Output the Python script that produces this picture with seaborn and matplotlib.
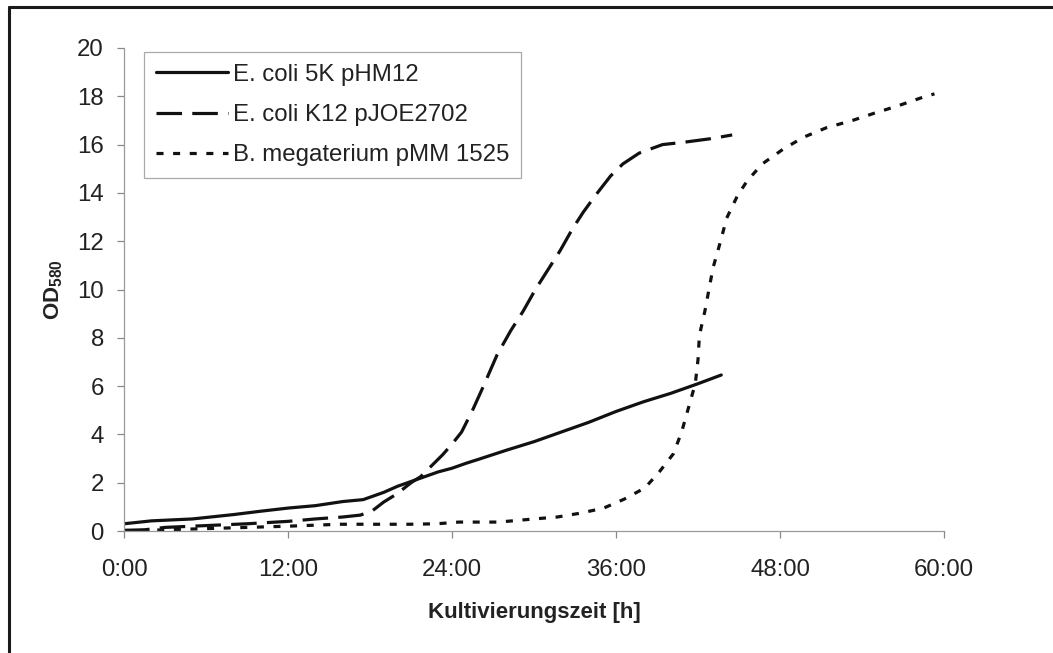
import matplotlib
matplotlib.use("Agg")
import pandas as pd
import seaborn as sns
import matplotlib.pyplot as plt
import matplotlib.lines as mlines

# growth curves, time in hours, OD580
labels = ["E. coli 5K pHM12", "E. coli K12 pJOE2702", "B. megaterium pMM 1525"]

t_5k = [0, 2, 5, 8, 10, 12, 14, 16, 17.5, 19, 20, 21, 22, 23, 24, 25, 26,
        28, 30, 32, 34, 36, 38, 40, 42, 43.7]
od_5k = [0.3, 0.42, 0.5, 0.68, 0.82, 0.95, 1.05, 1.22, 1.3, 1.6, 1.85, 2.05,
         2.25, 2.45, 2.6, 2.8, 2.98, 3.35, 3.7, 4.1, 4.5, 4.95, 5.35, 5.7,
         6.1, 6.46]

t_k12 = [0, 1.5, 3, 5, 7, 9, 12, 14, 16, 17.3, 18.2, 19, 20, 21, 21.7, 22.5,
         23.3, 24, 24.7, 25.5, 26.3, 27.3, 28.3, 29.2, 30.1, 31, 31.9, 32.8,
         33.6, 34.5, 35.6, 36.5, 37.7, 39.4, 41, 43, 44.5]
od_k12 = [0.03, 0.05, 0.15, 0.2, 0.25, 0.3, 0.4, 0.5, 0.58, 0.66, 0.85, 1.2,
          1.55, 2.0, 2.25, 2.7, 3.15, 3.6, 4.1, 5.0, 6.0, 7.3, 8.3, 9.1,
          10.0, 10.8, 11.6, 12.5, 13.2, 13.9, 14.7, 15.2, 15.65, 16.0, 16.1,
          16.25, 16.4]

t_bm = [0, 3, 6, 9, 12, 15.8, 20.9, 22.9, 24.5, 27.3, 28.2, 30, 31.7, 33.4,
        35.1, 36.6, 38.1, 39.1, 40.2, 40.8, 41.3, 41.8, 42.0, 42.1, 42.5,
        42.8, 43.1, 43.6, 44.1, 44.9, 45.6, 46.7, 48.2, 49.7, 51.4, 53.3,
        54.9, 56.6, 58.5, 59.3]
od_bm = [0.0, 0.05, 0.1, 0.15, 0.2, 0.28, 0.28, 0.3, 0.37, 0.37, 0.41, 0.5,
         0.58, 0.74, 0.95, 1.32, 1.78, 2.4, 3.2, 4.1, 5.1, 6.1, 7.1, 8.1, 9.1,
         10.0, 10.9, 11.9, 12.96, 13.9, 14.5, 15.2, 15.8, 16.3, 16.7, 17.0,
         17.3, 17.6, 17.97, 18.1]

x_ticks = [0, 12, 24, 36, 48, 60]
x_tick_labels = ["0:00", "12:00", "24:00", "36:00", "48:00", "60:00"]
y_ticks = list(range(0, 21, 2))

sns.set_style("ticks")
plt.rcParams["font.family"] = ["Liberation Sans", "DejaVu Sans"]
plt.rcParams["mathtext.fontset"] = "custom"
plt.rcParams["mathtext.rm"] = "Liberation Sans"
plt.rcParams["mathtext.bf"] = "Liberation Sans:bold"

data = pd.concat([
    pd.DataFrame({"t": t_5k, "od": od_5k, "strain": labels[0]}),
    pd.DataFrame({"t": t_k12, "od": od_k12, "strain": labels[1]}),
    pd.DataFrame({"t": t_bm, "od": od_bm, "strain": labels[2]}),
])

fig = plt.figure(figsize=(10.53, 6.53), dpi=100)
ax = fig.add_axes([0.1178, 0.1868, 0.7787, 0.7397])

dash_styles = {labels[0]: "", labels[1]: (8, 3.2), labels[2]: (2.2, 3.0)}
sns.lineplot(data=data, x="t", y="od", style="strain", dashes=dash_styles,
             color="#111111", linewidth=2.3, estimator=None, sort=False,
             ax=ax)

ax.set_xlim(0, 60)
ax.set_ylim(0, 20)
ax.set_xticks(x_ticks)
ax.set_xticklabels(x_tick_labels)
ax.set_yticks(y_ticks)
ax.tick_params(axis="both", colors="#888888", labelcolor="#222222",
               labelsize=17.3, length=5, width=0.9, direction="out")
ax.tick_params(axis="y", pad=9.5)
ax.tick_params(axis="x", pad=15)
sns.despine(ax=ax)
for side in ["left", "bottom"]:
    ax.spines[side].set_color("#999999")
    ax.spines[side].set_linewidth(0.9)

ax.set_xlabel("Kultivierungszeit [h]", fontsize=16, fontweight="bold",
              color="#222222", labelpad=15)
ax.set_ylabel(r"$\mathbf{OD_{580}}$", fontsize=16, color="#222222",
              labelpad=9)

handles, _ = ax.get_legend_handles_labels()
leg = ax.legend(handles=handles, labels=labels, loc="upper left",
                bbox_to_anchor=(0.024, 0.992), borderaxespad=0,
                fontsize=17.3, handlelength=3.0, handletextpad=0.2,
                labelspacing=0.76, borderpad=0.5, fancybox=False,
                framealpha=1, edgecolor="#aaaaaa")
leg.get_frame().set_linewidth(0.9)
for text in leg.get_texts():
    text.set_color("#222222")

# black frame round the picture, left and top edges only
fx = 9 / 1053
fy = 1 - 7 / 653
fig.add_artist(mlines.Line2D([fx, fx], [0, fy], color="#1a1a1a", lw=2.2,
                             transform=fig.transFigure))
fig.add_artist(mlines.Line2D([fx, 1], [fy, fy], color="#1a1a1a", lw=2.2,
                             transform=fig.transFigure))

fig.savefig("out.png", dpi=100)
plt.close(fig)
